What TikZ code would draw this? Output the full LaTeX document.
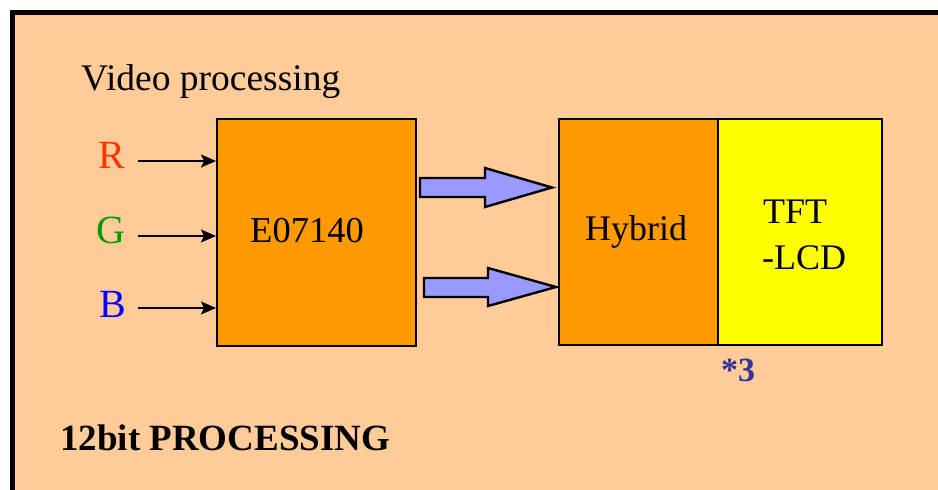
\documentclass[tikz,border=0pt]{standalone}
\usepackage{fontspec}
\setmainfont{Liberation Serif}
\usetikzlibrary{arrows.meta}
\definecolor{peach}{HTML}{FFCC99}
\definecolor{boxorange}{HTML}{FF9900}
\definecolor{lcdyellow}{HTML}{FFFF00}
\definecolor{busblue}{HTML}{9999FF}
\definecolor{noteblue}{HTML}{333399}
\definecolor{rred}{HTML}{FF3300}
\definecolor{ggreen}{HTML}{009900}
\definecolor{bblue}{HTML}{0000FF}
\begin{document}
\begin{tikzpicture}[x=1pt,y=-1pt,
  txt/.style={inner sep=0pt,anchor=base west,font=\fontsize{36}{40}\selectfont},
  blk/.style={draw=black,line width=2.2pt,inner sep=0pt,anchor=north west},
  thin/.style={line width=2pt,-{Stealth[length=15pt,width=13pt,inset=3pt]}},
  bus/.style={draw=black,line width=2.4pt,fill=busblue,line join=miter}]
\fill[white] (0,0) rectangle (938,490);
\useasboundingbox (0,0) rectangle (938,490);
\fill[peach] (12,12) rectangle (938,490);
\draw[line width=5pt] (12,490) -- (12,12) -- (938,12);

\node[txt,font=\fontsize{37.5}{40}\selectfont] (title) at (81,90) {Video processing};

\node[blk,fill=boxorange,minimum width=199pt,minimum height=227pt] (e) at (216,118) {};
\node[txt,font=\fontsize{36.5}{40}\selectfont] (etext) at (250,242) {E07140};

\node[blk,fill=boxorange,minimum width=159pt,minimum height=226pt] (hy) at (558,118) {};
\node[txt] (hytext) at (585,240) {Hybrid};
\node[blk,fill=lcdyellow,minimum width=164pt,minimum height=226pt] (lcd) at (717,118) {};
\node[txt] (tft) at (763,223) {TFT};
\node[txt] (lcdt) at (762,269) {-LCD};

\node[txt,text=rred,font=\fontsize{40}{44}\selectfont] (r) at (98,168) {R};
\node[txt,text=ggreen,font=\fontsize{40}{44}\selectfont] (g) at (96,243) {G};
\node[txt,text=bblue,font=\fontsize{40}{44}\selectfont] (b) at (99,317) {B};

\coordinate (rs) at (138,161);
\coordinate (gs) at (138,236);
\coordinate (bs) at (138,308);
\draw[thin] (rs) -- (e.west |- rs);
\draw[thin] (gs) -- (e.west |- gs);
\draw[thin] (bs) -- (e.west |- bs);

% block arrows from E07140 to Hybrid
\draw[bus] (420,178) -- (485,178) -- (485,168) -- (552,187.5) -- (485,207) -- (485,197) -- (420,197) -- cycle;
\draw[bus] (424,278) -- (488,278) -- (488,268) -- (556,287) -- (488,306) -- (488,297) -- (424,297) -- cycle;

\node[txt,text=noteblue,font=\fontsize{34}{38}\selectfont\bfseries] (note) at (721,381) {*3};
\node[txt,font=\fontsize{37}{40}\selectfont\bfseries] (proc) at (60,450) {12bit PROCESSING};
\end{tikzpicture}
\end{document}
